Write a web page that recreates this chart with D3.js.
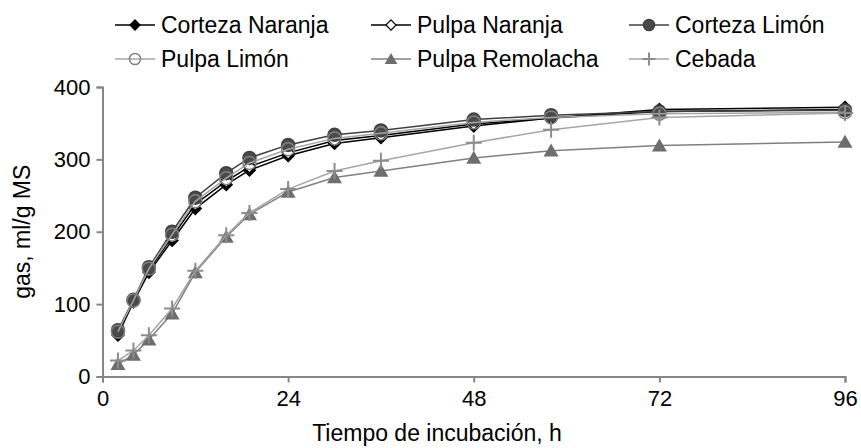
<!DOCTYPE html>
<html><head><meta charset="utf-8">
<script src="https://cdn.jsdelivr.net/npm/d3@7"></script>
<style>body{margin:0;background:#fff}svg{display:block;font-family:"Liberation Sans",Arial,sans-serif}</style>
</head><body><svg id="c" width="861" height="448"></svg>
<script>
const times = [2, 4, 6, 9, 12, 16, 19, 24, 30, 36, 48, 58, 72, 96];
const seriesNames = ["Corteza Naranja", "Pulpa Naranja", "Corteza Limón", "Pulpa Limón", "Pulpa Remolacha", "Cebada"];
const cortezaNaranja = [57, 103, 144, 188, 232, 265, 285, 305, 322, 330, 346, 357, 369, 372];
const pulpaNaranja   = [60, 105, 147, 193, 238, 270, 290, 309, 326, 333, 349, 357, 366, 369];
const cortezaLimon   = [64, 106, 151, 200, 247, 281, 302, 320, 334, 340, 355, 361, 366, 368];
const pulpaLimon     = [62, 105, 149, 196, 242, 274, 295, 314, 329, 336, 351, 358, 363, 365];
const pulpaRemolacha = [17, 30, 51, 87, 144, 193, 224, 255, 275, 284, 302, 312, 319, 324];
const cebada         = [22, 36, 57, 94, 146, 195, 226, 259, 284, 298, 323, 341, 358, 364];
const xTicks = [0, 24, 48, 72, 96];
const yTicks = [0, 100, 200, 300, 400];
const xTitle = "Tiempo de incubación, h";
const yTitle = "gas, ml/g MS";

const values = [cortezaNaranja, pulpaNaranja, cortezaLimon, pulpaLimon, pulpaRemolacha, cebada];
const styles = [
  {line:"#000000", marker:"diamond", fill:"#000000", stroke:"#000000"},
  {line:"#000000", marker:"diamond", fill:"#ffffff", stroke:"#000000"},
  {line:"#404040", marker:"circle", fill:"#4a4a4a", stroke:"#404040"},
  {line:"#a6a6a6", marker:"circle", fill:"none", stroke:"#808080"},
  {line:"#808080", marker:"triangle", fill:"#6e6e6e", stroke:"#6e6e6e"},
  {line:"#a6a6a6", marker:"plus", fill:"none", stroke:"#8c8c8c"}
];

const svg = d3.select("#c");
const x = d3.scaleLinear().domain([0, 96]).range([102.5, 845]);
const y = d3.scaleLinear().domain([0, 400]).range([376.5, 87]);
const axisColor = "#868686";
const fs = 22, fsT = 23;

// axes
const gx = svg.append("g").attr("transform", `translate(0,${y(0)})`)
  .call(d3.axisBottom(x).tickValues(xTicks).tickSize(6).tickPadding(8));
const gy = svg.append("g").attr("transform", `translate(${x(0)},0)`)
  .call(d3.axisLeft(y).tickValues(yTicks).tickSize(6).tickPadding(6));
[gx, gy].forEach(g => {
  g.select(".domain").attr("stroke", axisColor).attr("stroke-width", 2);
  g.selectAll(".tick line").attr("stroke", axisColor).attr("stroke-width", 2);
  g.selectAll(".tick text").attr("fill", "#000").style("font-size", fs + "px").style("font-family", '"Liberation Sans",Arial,sans-serif');
});

svg.append("text").attr("x", 437).attr("y", 441).attr("text-anchor", "middle")
  .style("font-size", fsT + "px").text(xTitle);
svg.append("text").attr("transform", `translate(30,${(y(0) + y(400)) / 2}) rotate(-90)`)
  .attr("text-anchor", "middle").style("font-size", fsT + "px").text(yTitle);

function drawMarker(g, type, st, cx, cy, scale) {
  const s = scale || 1;
  if (type === "diamond") {
    const r = 6 * s;
    g.append("path").attr("d", `M${cx},${cy - r}L${cx + r},${cy}L${cx},${cy + r}L${cx - r},${cy}Z`)
      .attr("fill", st.fill).attr("stroke", st.stroke).attr("stroke-width", 1.2);
  } else if (type === "circle") {
    g.append("circle").attr("cx", cx).attr("cy", cy).attr("r", 6.5 * s)
      .attr("fill", st.fill).attr("stroke", st.stroke).attr("stroke-width", 1.5);
  } else if (type === "triangle") {
    const w = 7.5 * s, h = 13 * s;
    g.append("path").attr("d", `M${cx},${cy - h * 0.55}L${cx + w},${cy + h * 0.45}L${cx - w},${cy + h * 0.45}Z`)
      .attr("fill", st.fill);
  } else if (type === "plus") {
    const r = 8 * s;
    g.append("path").attr("d", `M${cx - r},${cy}L${cx + r},${cy}M${cx},${cy - r}L${cx},${cy + r}`)
      .attr("stroke", st.stroke).attr("stroke-width", 2);
  }
}

const line = d3.line().x(d => x(d[0])).y(d => y(d[1]));
values.forEach((vals, i) => {
  const st = styles[i];
  const pts = times.map((t, j) => [t, vals[j]]);
  const g = svg.append("g");
  g.append("path").attr("d", line(pts)).attr("fill", "none").attr("stroke", st.line).attr("stroke-width", 1.5);
  pts.forEach(p => drawMarker(g, st.marker, st, x(p[0]), y(p[1])));
});

// legend
const legX = [115, 371, 629];
const legY = [25, 59];
seriesNames.forEach((name, i) => {
  const st = styles[i];
  const lx = legX[i % 3], ly = legY[Math.floor(i / 3)];
  const g = svg.append("g");
  g.append("line").attr("x1", lx).attr("x2", lx + 40).attr("y1", ly).attr("y2", ly)
    .attr("stroke", st.line).attr("stroke-width", 1.5);
  drawMarker(g, st.marker, st, lx + 20, ly, st.marker === "plus" ? 0.8 : 0.85);
  g.append("text").attr("x", lx + 46).attr("y", ly).attr("dy", "0.35em")
    .style("font-size", fsT + "px").text(name);
});
</script></body></html>
